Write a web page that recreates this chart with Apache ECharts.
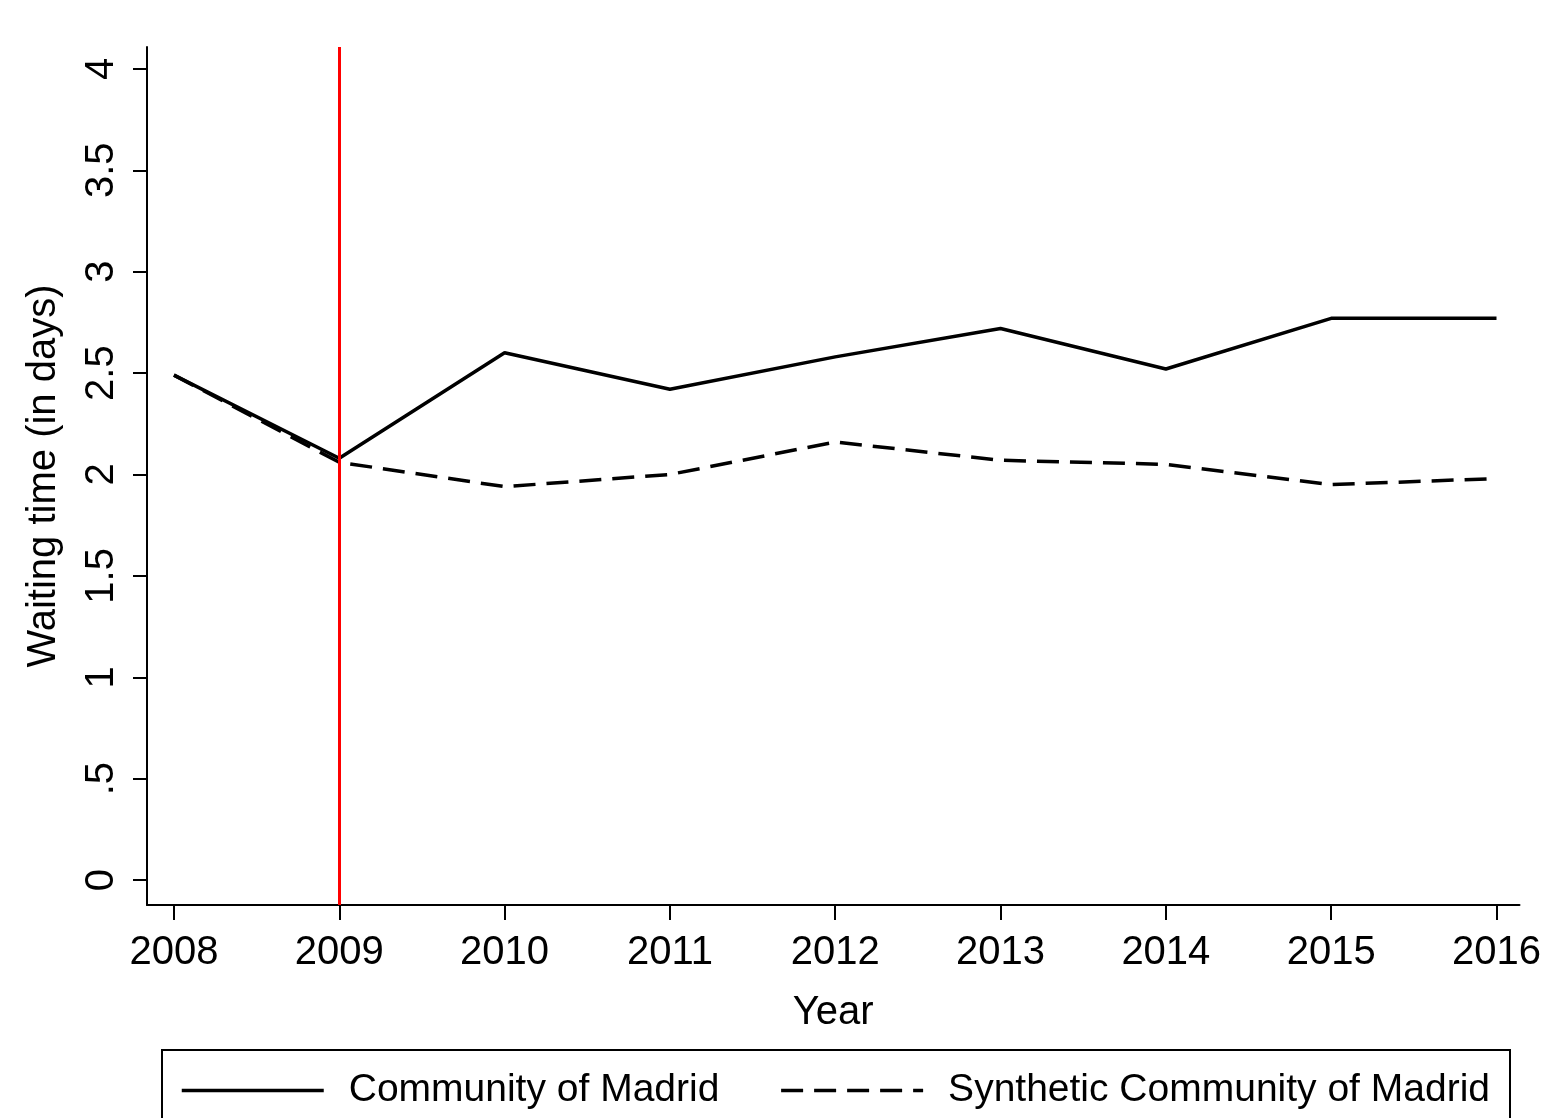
<!DOCTYPE html>
<html>
<head>
<meta charset="utf-8">
<title>Waiting time — Community of Madrid vs synthetic control</title>
<script src="https://cdn.jsdelivr.net/npm/echarts@6/dist/echarts.min.js"></script>
<style>
  html, body { margin: 0; padding: 0; background: #fff; }
  #chart { width: 1544px; height: 1118px; }
</style>
</head>
<body>
<div id="chart"></div>
<script>
// Years on the horizontal axis
const years = [2008, 2009, 2010, 2011, 2012, 2013, 2014, 2015, 2016];
// Average waiting time (days), observed region
const madrid = [2.49, 2.08, 2.60, 2.42, 2.58, 2.72, 2.52, 2.77, 2.77];
// Average waiting time (days), synthetic control
const synthetic = [2.49, 2.06, 1.94, 2.00, 2.16, 2.07, 2.05, 1.95, 1.98];
// Tick positions and their printed labels
const yTicks = [0, 0.5, 1, 1.5, 2, 2.5, 3, 3.5, 4];
const yTickLabels = ['0', '.5', '1', '1.5', '2', '2.5', '3', '3.5', '4'];
const xTicks = years;
// Year the policy starts
const treatmentYear = 2009;

const FONT = '"Liberation Sans", Arial, sans-serif';
const toPairs = (xs, ys) => xs.map((x, i) => [x, ys[i]]);

const chart = echarts.init(document.getElementById('chart'), null, { renderer: 'canvas' });

chart.setOption({
  backgroundColor: '#ffffff',
  animation: false,
  textStyle: { fontFamily: FONT, color: '#000' },
  grid: { left: 147, right: 21, top: 47, bottom: 213, containLabel: false },
  xAxis: {
    type: 'value',
    min: 2007.837,
    max: 2016.139,
    name: 'Year',
    nameLocation: 'middle',
    nameGap: 88,
    nameTextStyle: { fontSize: 40, fontFamily: FONT, color: '#000' },
    axisLine: { show: true, onZero: false, lineStyle: { color: '#000', width: 2 } },
    axisTick: { show: true, length: 15, lineStyle: { color: '#000', width: 2 }, customValues: xTicks },
    axisLabel: {
      show: true, margin: 28, fontSize: 40, fontFamily: FONT, color: '#000',
      customValues: xTicks,
      formatter: v => String(Math.round(v))
    },
    splitLine: { show: false }
  },
  yAxis: {
    type: 'value',
    min: -0.123,
    max: 4.108,
    name: 'Waiting time (in days)',
    nameLocation: 'middle',
    nameGap: 83,
    nameRotate: 90,
    nameTextStyle: { fontSize: 40, fontFamily: FONT, color: '#000' },
    axisLine: { show: true, onZero: false, lineStyle: { color: '#000', width: 2 } },
    axisTick: { show: true, length: 14, lineStyle: { color: '#000', width: 2 }, customValues: yTicks },
    axisLabel: {
      show: true, margin: 25, rotate: 90, fontSize: 40, fontFamily: FONT, color: '#000',
      customValues: yTicks,
      formatter: v => {
        const i = yTicks.findIndex(t => Math.abs(t - v) < 1e-6);
        return i >= 0 ? yTickLabels[i] : '';
      }
    },
    splitLine: { show: false }
  },
  legend: {
    left: 175,
    top: 1066,
    itemWidth: 142,
    itemHeight: 30,
    itemGap: 60,
    itemStyle: { opacity: 0 },
    lineStyle: { width: 3.5 },
    textStyle: { fontSize: 39, fontFamily: FONT, color: '#000', padding: [0, 0, 0, 20] },
    data: ['Community of Madrid', 'Synthetic Community of Madrid']
  },
  graphic: [{
    type: 'rect',
    shape: { x: 162, y: 1050, width: 1348, height: 100 },
    style: { fill: 'none', stroke: '#000', lineWidth: 2 },
    silent: true,
    z: -1
  }],
  series: [
    {
      name: 'Community of Madrid',
      type: 'line',
      data: toPairs(years, madrid),
      showSymbol: false,
      symbol: 'none',
      lineStyle: { color: '#000', width: 3.5, type: 'solid' },
      itemStyle: { color: '#000' },
      z: 3,
      markLine: {
        silent: true,
        symbol: 'none',
        label: { show: false },
        lineStyle: { color: '#ff0000', width: 3, type: 'solid' },
        data: [{ xAxis: treatmentYear }]
      }
    },
    {
      name: 'Synthetic Community of Madrid',
      type: 'line',
      data: toPairs(years, synthetic),
      showSymbol: false,
      symbol: 'none',
      lineStyle: { color: '#000', width: 3.5, type: [22, 11] },
      itemStyle: { color: '#000' },
      z: 3
    }
  ]
});
</script>
</body>
</html>
